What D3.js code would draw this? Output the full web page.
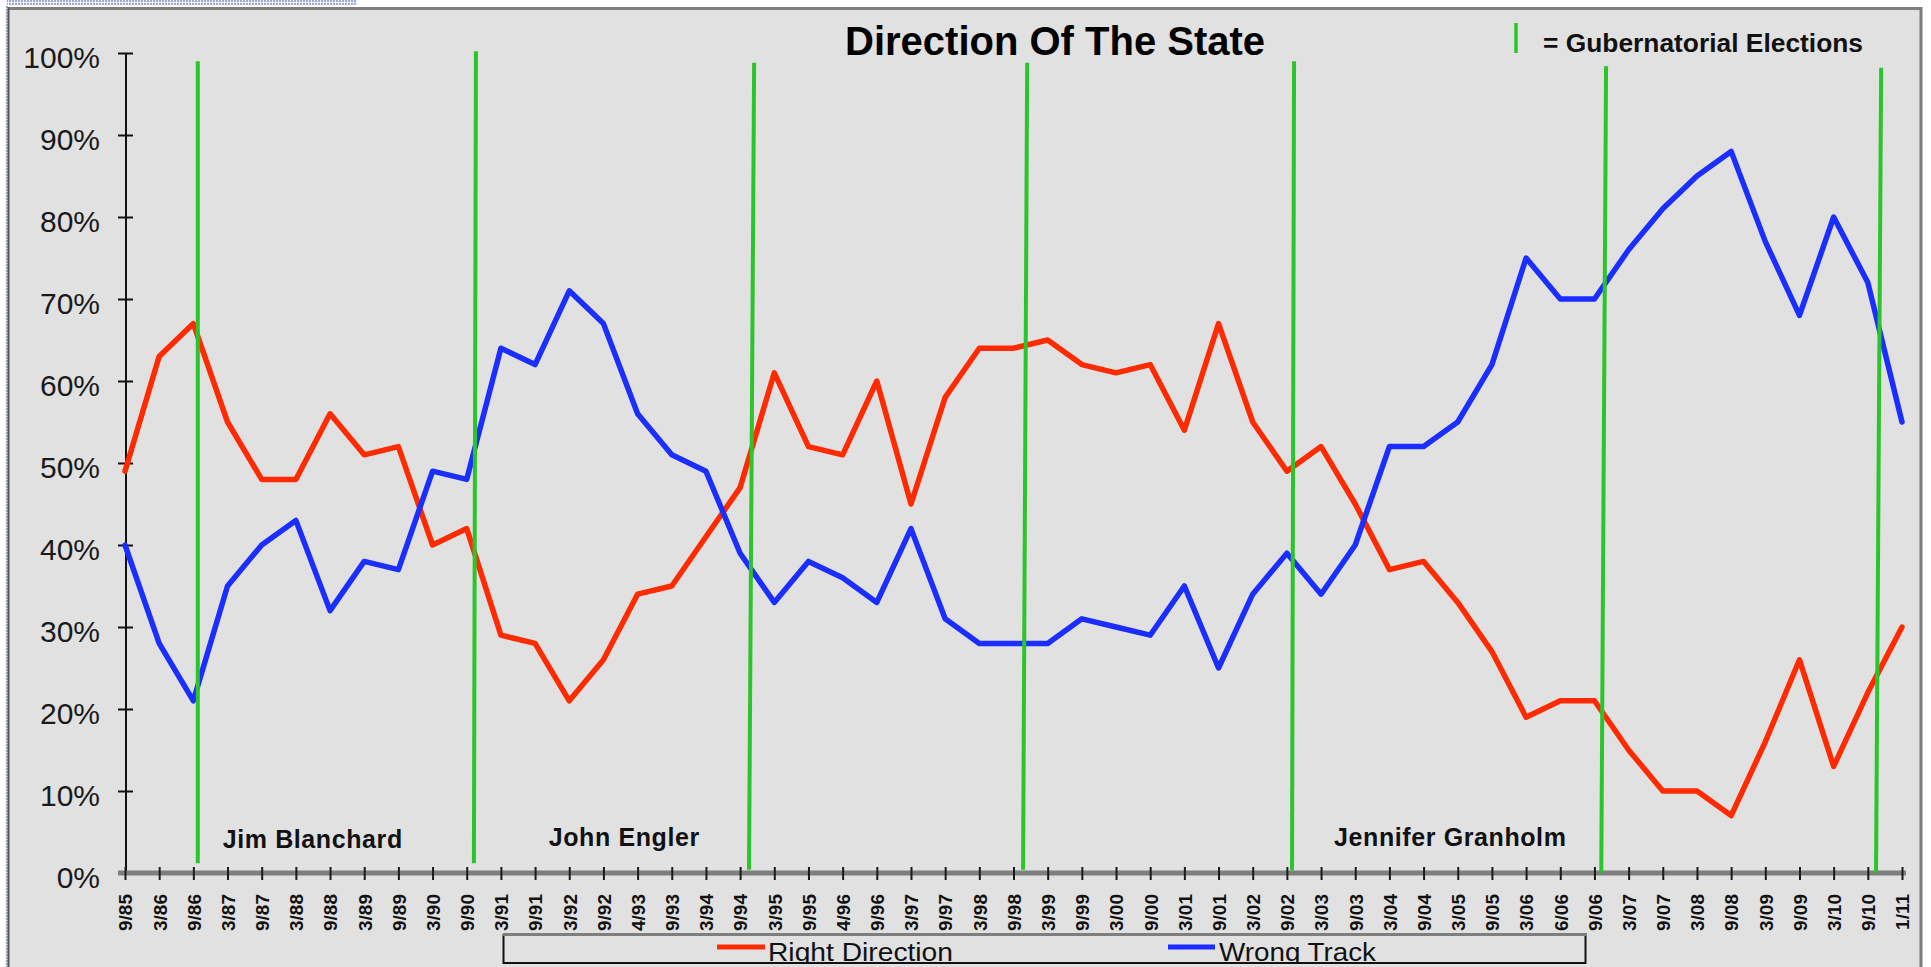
<!DOCTYPE html>
<html><head><meta charset="utf-8">
<script src="https://cdn.jsdelivr.net/npm/d3@7"></script>
<style>body{margin:0;background:#fff;overflow:hidden}svg{display:block}</style>
</head><body>
<svg id="chart" width="1931" height="967"></svg>
<script>
// ---------- data ----------
const dates = ["9/85","3/86","9/86","3/87","9/87","3/88","9/88","3/89","9/89","3/90","9/90",
  "3/91","9/91","3/92","9/92","4/93","9/93","3/94","9/94","3/95","9/95","4/96","9/96","3/97",
  "9/97","3/98","9/98","3/99","9/99","3/00","9/00","3/01","9/01","3/02","9/02","3/03","9/03",
  "3/04","9/04","3/05","9/05","3/06","6/06","9/06","3/07","9/07","3/08","9/08","3/09","9/09",
  "3/10","9/10","1/11"];
const rightDirection = [49,63,67,55,48,48,56,51,52,40,42,29,28,21,26,34,35,41,47,61,52,51,60,45,
  58,64,64,65,62,61,62,54,67,55,49,52,45,37,38,33,27,19,21,21,15,10,10,7,16,26,13,22,30];
const wrongTrack = [40,28,21,35,40,43,32,38,37,49,48,64,62,71,67,56,51,49,39,33,38,36,33,42,
  31,28,28,28,31,30,29,35,25,34,39,34,40,52,52,55,62,75,70,70,76,81,85,88,77,68,80,72,55];
const yTicks = [0,10,20,30,40,50,60,70,80,90,100];
// gubernatorial elections, as fractional positions along the date axis (top / bottom of marker)
const electionTopPos    = [2.13,10.27,18.41,26.40,34.21,43.34,51.39];
const electionBottomPos = [2.13,10.21,18.26,26.28,34.15,43.20,51.24];
const electionTopPct    = [99.0,100.2,98.8,98.8,99.0,98.4,98.2];
const electionBottomPct = [1.2,1.2,0.4,0.4,0.3,0,0];
const governors = ["Jim Blanchard","John Engler","Jennifer Granholm"];
const governorPos = [2.86,12.40,35.38];
const governorPct = [3.0,3.3,3.3];
const seriesNames = ["Right Direction","Wrong Track"];
const titleText = "Direction Of The State";
const electionLegend = "= Gubernatorial Elections";

// ---------- setup ----------
const svg = d3.select("#chart");
const RED = "#ff2a00", BLUE = "#1a2eff", GREEN = "#2bc42b", BG = "#e1e1e1";
const FONT = "'Liberation Sans', Arial, Helvetica, sans-serif";

const x = d3.scalePoint().domain(dates).range([125, 1902]);
const xf = d3.scaleLinear().domain([0, dates.length - 1]).range([125, 1902]);
const y = d3.scaleLinear().domain([0, 100]).range([873, 53]);

// frame & background
svg.append("rect").attr("x", 9).attr("y", 9).attr("width", 1912).attr("height", 958).attr("fill", BG);
const defs = svg.append("defs");
const pat = defs.append("pattern").attr("id", "dots").attr("width", 3).attr("height", 3)
  .attr("patternUnits", "userSpaceOnUse");
pat.append("rect").attr("width", 3).attr("height", 3).attr("fill", "#eef0f8");
pat.append("rect").attr("width", 2).attr("height", 2).attr("fill", "#9eaad0");
svg.append("rect").attr("x", 7).attr("y", 0).attr("width", 350).attr("height", 5).attr("fill", "url(#dots)");
svg.append("rect").attr("x", 5).attr("y", 5).attr("width", 3).attr("height", 962).attr("fill", "url(#dots)");
svg.append("line").attr("x1", 8).attr("x2", 1922).attr("y1", 8.5).attr("y2", 8.5)
  .attr("stroke", "#7d7d7d").attr("stroke-width", 3);
svg.append("line").attr("x1", 8.5).attr("x2", 8.5).attr("y1", 7).attr("y2", 967)
  .attr("stroke", "#555").attr("stroke-width", 2);
svg.append("line").attr("x1", 1921).attr("x2", 1921).attr("y1", 7).attr("y2", 967)
  .attr("stroke", "#7d7d7d").attr("stroke-width", 3);

// title
svg.append("text").attr("x", 845).attr("y", 55).text(titleText)
  .attr("font-family", FONT).attr("font-weight", "bold").attr("font-size", 40).attr("fill", "#000");

// election legend
svg.append("line").attr("x1", 1516).attr("x2", 1516).attr("y1", 23).attr("y2", 53)
  .attr("stroke", GREEN).attr("stroke-width", 3.5);
svg.append("text").attr("x", 1543).attr("y", 52).text(electionLegend)
  .attr("font-family", FONT).attr("font-weight", "bold").attr("font-size", 26)
  .attr("textLength", 320).attr("lengthAdjust", "spacingAndGlyphs").attr("fill", "#111");

// y axis
const yAxis = svg.append("g").attr("transform", "translate(126,0)")
  .call(d3.axisLeft(y).tickValues(yTicks).tickFormat(d => d + "%").tickSize(8).tickPadding(18));
yAxis.select(".domain").attr("stroke", "#111").attr("stroke-width", 2).attr("d", `M0,${y(100)}V${y(0)}`);
yAxis.selectAll(".tick line").attr("x1", 7).attr("x2", -8).attr("stroke", "#111").attr("stroke-width", 2);
yAxis.selectAll(".tick text").attr("font-family", FONT).attr("font-size", 30).attr("fill", "#1a1a1a")
  .attr("dy", "0.48em");

// x axis
const xAxis = svg.append("g").attr("transform", `translate(0,${y(0)})`)
  .call(d3.axisBottom(x).tickSize(7).tickPadding(0));
xAxis.select(".domain").attr("d", `M118,0H1906`).attr("stroke", "#7e7e7e").attr("stroke-width", 5);
xAxis.selectAll(".tick line").attr("y1", -6).attr("y2", 7).attr("stroke", "#1a1a1a").attr("stroke-width", 2);
xAxis.selectAll(".tick text")
  .attr("font-family", FONT).attr("font-weight", "bold").attr("font-size", 19).attr("fill", "#111")
  .attr("text-anchor", "end").attr("transform", "rotate(-90)")
  .attr("x", -21).attr("y", 0).attr("dy", "0.36em");

// series lines
const line = d3.line().x((d, i) => x(dates[i])).y(d => y(d)).curve(d3.curveLinear);
svg.append("path").datum(rightDirection).attr("d", line).attr("fill", "none")
  .attr("stroke", RED).attr("stroke-width", 5.5).attr("stroke-linejoin", "round").attr("stroke-linecap", "round");
svg.append("path").datum(wrongTrack).attr("d", line).attr("fill", "none")
  .attr("stroke", BLUE).attr("stroke-width", 5.5).attr("stroke-linejoin", "round").attr("stroke-linecap", "round");

// election markers
svg.append("g").selectAll("line").data(electionTopPos).join("line")
  .attr("x1", d => xf(d)).attr("y1", (d, i) => y(electionTopPct[i]))
  .attr("x2", (d, i) => xf(electionBottomPos[i])).attr("y2", (d, i) => y(electionBottomPct[i]))
  .attr("stroke", GREEN).attr("stroke-width", 4);

// governor labels
svg.append("g").selectAll("text").data(governors).join("text")
  .attr("x", (d, i) => xf(governorPos[i])).attr("y", (d, i) => y(governorPct[i]))
  .text(d => d).attr("font-family", FONT).attr("font-weight", "bold").attr("font-size", 25)
  .attr("letter-spacing", 0.6).attr("fill", "#111");

// series legend box
const lg = svg.append("g");
defs.append("clipPath").attr("id", "lgclip").append("rect")
  .attr("x", 504).attr("y", 935).attr("width", 1081).attr("height", 27);
lg.append("rect").attr("x", 503.5).attr("y", 935).attr("width", 1082).attr("height", 28)
  .attr("fill", BG).attr("stroke", "#111").attr("stroke-width", 2);
lg.append("line").attr("x1", 503).attr("x2", 1587).attr("y1", 934.5).attr("y2", 934.5)
  .attr("stroke", "#7e7e7e").attr("stroke-width", 3);
const legendSample = [[717, 765], [1168, 1215]];
const legendText = [[768, 185], [1219, 157]];
const lgi = lg.append("g").attr("clip-path", "url(#lgclip)");
lgi.selectAll("line").data(seriesNames).join("line")
  .attr("x1", (d, i) => legendSample[i][0]).attr("x2", (d, i) => legendSample[i][1])
  .attr("y1", 947).attr("y2", 947).attr("stroke", (d, i) => i ? BLUE : RED).attr("stroke-width", 5);
lgi.selectAll("text").data(seriesNames).join("text")
  .attr("x", (d, i) => legendText[i][0]).attr("y", 961).text(d => d)
  .attr("textLength", (d, i) => legendText[i][1]).attr("lengthAdjust", "spacingAndGlyphs")
  .attr("font-family", FONT).attr("font-size", 25).attr("fill", "#111");
</script>
</body></html>
